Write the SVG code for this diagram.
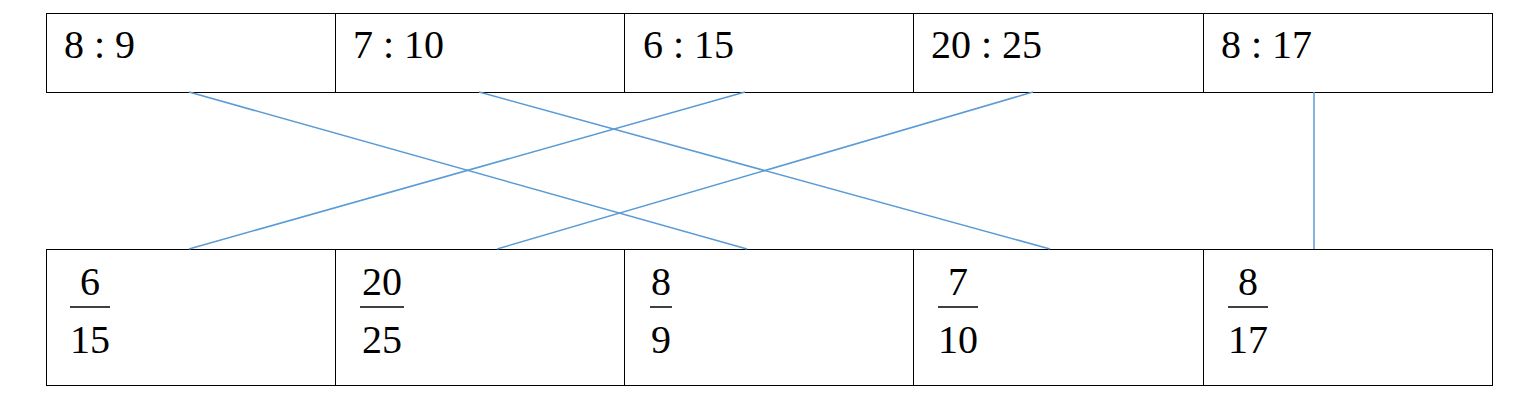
<svg xmlns="http://www.w3.org/2000/svg" width="1520" height="408" viewBox="0 0 1520 408">
<style>
.b{fill:none;stroke:#000;stroke-width:1}
.t{font-family:"Liberation Serif","Times New Roman","DejaVu Serif",serif;font-size:40px;fill:#000}
.c{stroke:#5b9bd5;stroke-width:1.5;fill:none}
.f{stroke:#000;stroke-width:1.5}
</style>
<rect width="1520" height="408" fill="#fff"/>
<g id="top">
<rect class="b" x="46.5" y="13.5" width="1446" height="79"/>
<path class="b" d="M335.5 13.5V92.5M624.5 13.5V92.5M913.5 13.5V92.5M1203.5 13.5V92.5"/>
<text class="t" x="64" y="58">8 : 9</text>
<text class="t" x="353" y="58">7 : 10</text>
<text class="t" x="643" y="58">6 : 15</text>
<text class="t" x="931" y="58">20 : 25</text>
<text class="t" x="1221" y="58">8 : 17</text>
</g>
<g id="bottom">
<rect class="b" x="46.5" y="249.5" width="1446" height="136"/>
<path class="b" d="M335.5 249.5V385.5M624.5 249.5V385.5M913.5 249.5V385.5M1203.5 249.5V385.5"/>
<text class="t" x="90" y="295" text-anchor="middle">6</text><line class="f" x1="70" y1="307" x2="110" y2="307"/><text class="t" x="90" y="353" text-anchor="middle">15</text>
<text class="t" x="382" y="295" text-anchor="middle">20</text><line class="f" x1="360" y1="307" x2="404" y2="307"/><text class="t" x="382" y="353" text-anchor="middle">25</text>
<text class="t" x="661" y="295" text-anchor="middle">8</text><line class="f" x1="650" y1="307" x2="672" y2="307"/><text class="t" x="661" y="353" text-anchor="middle">9</text>
<text class="t" x="958" y="295" text-anchor="middle">7</text><line class="f" x1="938" y1="307" x2="978" y2="307"/><text class="t" x="958" y="353" text-anchor="middle">10</text>
<text class="t" x="1248" y="295" text-anchor="middle">8</text><line class="f" x1="1228" y1="307" x2="1268" y2="307"/><text class="t" x="1248" y="353" text-anchor="middle">17</text>
</g>
<g id="connectors">
<line class="c" x1="189" y1="92" x2="747" y2="249"/>
<line class="c" x1="479" y1="92" x2="1050" y2="249"/>
<line class="c" x1="745" y1="92" x2="189" y2="249"/>
<line class="c" x1="1033" y1="92" x2="497" y2="249"/>
<line class="c" x1="1314" y1="92" x2="1314" y2="249"/>
</g>
</svg>
